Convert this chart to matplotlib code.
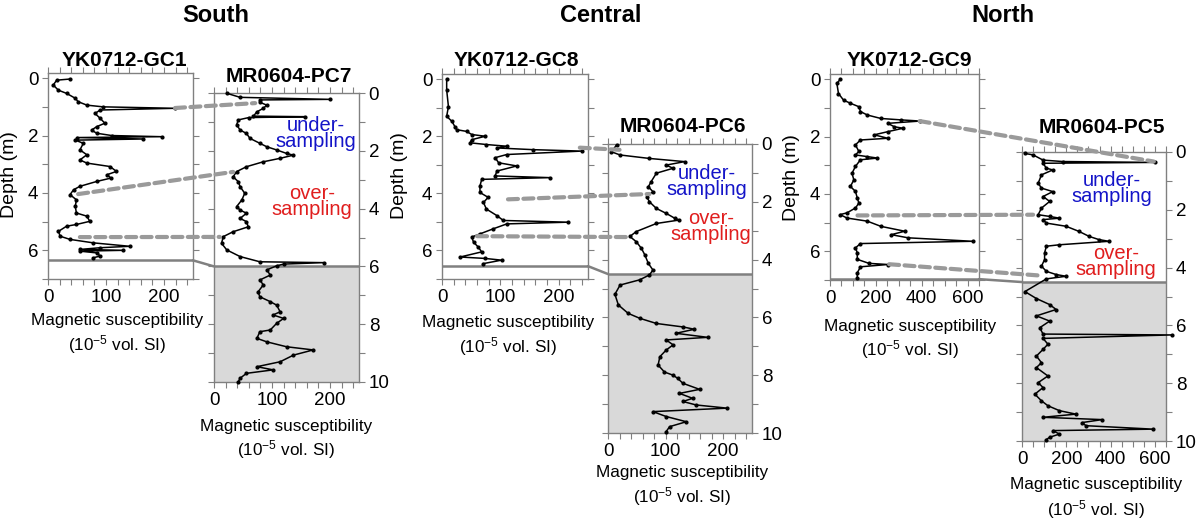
import matplotlib
matplotlib.use('Agg')
import matplotlib.pyplot as plt
from matplotlib.patches import ConnectionPatch
from matplotlib.ticker import MultipleLocator

plt.rcParams['font.family'] = ['Liberation Sans', 'DejaVu Sans']
plt.rcParams['mathtext.fontset'] = 'custom'
plt.rcParams['mathtext.rm'] = 'Liberation Sans'
plt.rcParams['mathtext.it'] = 'Liberation Sans:italic'
plt.rcParams['mathtext.bf'] = 'Liberation Sans:bold'

# ---------------- data ----------------
regions = ["South", "Central", "North"]
core_names = ["YK0712-GC1", "MR0604-PC7", "YK0712-GC8", "MR0604-PC6", "YK0712-GC9", "MR0604-PC5"]

gc1_depth = [0.03, 0.07, 0.24, 0.42, 0.53, 0.70, 0.82, 0.94, 1.00, 1.05, 1.11, 1.23, 1.40, 1.57, 1.69,
             1.81, 1.92, 2.00, 2.04, 2.07, 2.12, 2.16, 2.27, 2.50, 2.67, 2.85, 2.96, 3.08, 3.25, 3.37,
             3.48, 3.60, 3.77, 3.89, 4.06, 4.24, 4.47, 4.70, 4.81, 4.99, 5.10, 5.16, 5.34, 5.51, 5.62,
             5.74, 5.86, 5.91, 5.97, 6.00, 6.03, 6.09, 6.20, 6.26]
gc1_ms = [38, 15, 9, 18, 32, 47, 52, 67, 95, 219, 90, 81, 90, 98, 84,
          75, 84, 110, 196, 50, 164, 47, 61, 55, 67, 55, 67, 107, 118, 101,
          109, 84, 55, 44, 38, 49, 47, 49, 67, 72, 49, 32, 18, 21, 38,
          78, 141, 90, 55, 130, 55, 84, 90, 78]

pc7_depth = [0.01, 0.15, 0.22, 0.24, 0.32, 0.42, 0.53, 0.65, 0.80, 0.82, 0.85, 0.93, 1.10, 1.28, 1.40,
             1.57, 1.74, 1.86, 1.97, 2.09, 2.15, 2.26, 2.38, 2.55, 2.72, 2.90, 3.07, 3.24, 3.47, 3.70,
             3.93, 4.05, 4.16, 4.34, 4.45, 4.63, 4.80, 4.97, 5.20, 5.43, 5.66, 5.84, 5.87, 5.92, 5.98,
             6.12, 6.30, 6.47, 6.64, 6.88, 7.05, 7.22, 7.34, 7.57, 7.68, 7.80, 7.97, 8.20, 8.26, 8.49,
             8.61, 8.78, 8.89, 9.07, 9.30, 9.47, 9.58, 9.70, 9.87, 9.99]
pc7_ms = [22, 45, 200, 79, 79, 91, 85, 74, 68, 157, 60, 42, 39, 45, 56,
          62, 79, 91, 108, 125, 137, 114, 85, 56, 39, 33, 42, 45, 53, 48,
          39, 45, 56, 45, 56, 59, 33, 16, 13, 22, 45, 79, 189, 120, 108,
          91, 97, 79, 85, 76, 79, 97, 108, 114, 102, 120, 108, 97, 79, 74,
          91, 125, 171, 137, 114, 74, 102, 56, 45, 42]

gc8_depth = [0.00, 0.38, 0.96, 1.30, 1.48, 1.66, 1.77, 1.83, 1.94, 2.00, 2.12, 2.23, 2.29, 2.35, 2.41,
             2.47, 2.52, 2.64, 2.75, 2.93, 3.04, 3.22, 3.39, 3.45, 3.51, 3.74, 3.97, 4.14, 4.32, 4.55,
             4.78, 4.95, 5.01, 5.07, 5.24, 5.42, 5.53, 5.71, 5.88, 6.05, 6.23, 6.28, 6.34, 6.46]
gc8_ms = [8, 8, 11, 8, 17, 22, 25, 42, 51, 74, 51, 48, 76, 111, 94,
          156, 239, 111, 91, 97, 128, 94, 91, 185, 68, 65, 65, 79, 71, 76,
          94, 105, 216, 111, 88, 65, 51, 54, 62, 68, 31, 74, 102, 71]

pc6_depth = [0.03, 0.27, 0.38, 0.50, 0.61, 0.73, 0.84, 1.01, 1.30, 1.48, 1.65, 1.82, 2.00, 2.23, 2.40,
             2.57, 2.63, 2.75, 3.03, 3.20, 3.38, 3.61, 3.84, 4.13, 4.36, 4.53, 4.70, 4.88, 5.20, 5.57,
             5.86, 6.03, 6.21, 6.33, 6.41, 6.55, 6.69, 6.78, 6.95, 7.13, 7.36, 7.65, 7.89, 8.00, 8.11,
             8.28, 8.49, 8.63, 8.80, 8.91, 9.03, 9.14, 9.26, 9.43, 9.61, 9.78, 9.95]
pc6_ms = [15, 6, 21, 72, 133, 101, 113, 84, 75, 70, 78, 67, 72, 84, 101,
          116, 124, 84, 49, 38, 49, 58, 64, 70, 78, 72, 55, 21, 12, 18,
          35, 55, 84, 130, 150, 118, 173, 101, 113, 101, 90, 87, 98, 113, 121,
          130, 159, 124, 147, 130, 153, 207, 78, 101, 136, 107, 101]

gc9_depth = [0.01, 0.15, 0.50, 0.73, 0.84, 0.96, 1.13, 1.25, 1.37, 1.42, 1.46, 1.54, 1.66, 1.71, 1.83,
             1.94, 2.06, 2.12, 2.29, 2.52, 2.64, 2.70, 2.75, 2.81, 3.04, 3.28, 3.51, 3.74, 3.91, 4.14,
             4.32, 4.49, 4.66, 4.72, 4.84, 4.95, 5.13, 5.30, 5.42, 5.53, 5.65, 5.73, 5.88, 6.05, 6.28,
             6.42, 6.46, 6.54, 6.75, 6.92]
gc9_ms = [44, 30, 37, 59, 89, 126, 133, 163, 222, 311, 393, 252, 281, 319, 252,
          193, 252, 133, 111, 126, 111, 163, 207, 133, 111, 96, 104, 89, 111, 119,
          126, 111, 74, 44, 74, 163, 222, 326, 267, 341, 622, 133, 111, 119, 119,
          170, 252, 133, 119, 119]

pc5_depth = [0.05, 0.10, 0.28, 0.33, 0.36, 0.39, 0.56, 0.62, 0.79, 1.08, 1.25, 1.37, 1.54, 1.71, 1.94,
             2.17, 2.23, 2.29, 2.34, 2.46, 2.57, 2.75, 2.92, 3.03, 3.09, 3.21, 3.26, 3.49, 3.72, 3.95,
             4.13, 4.24, 4.30, 4.39, 4.83, 5.07, 5.28, 5.45, 5.67, 5.85, 6.08, 6.30, 6.33, 6.45, 6.65,
             6.83, 7.06, 7.29, 7.46, 7.75, 7.98, 8.15, 8.38, 8.61, 8.78, 8.95, 9.07, 9.18, 9.26, 9.36,
             9.47, 9.59, 9.64, 9.76, 9.87, 9.95]
pc5_ms = [13, 50, 95, 184, 600, 95, 110, 139, 88, 73, 88, 139, 95, 125, 88,
          73, 125, 169, 95, 110, 199, 258, 303, 347, 392, 169, 110, 102, 102, 88,
          110, 154, 199, 110, 13, 65, 125, 154, 65, 125, 80, 95, 675, 95, 117,
          95, 65, 88, 65, 117, 73, 95, 58, 88, 117, 169, 243, 95, 362, 273,
          288, 592, 139, 169, 125, 110]

# tie points: (gc value, gc depth, pc value, pc depth)
south_ties = [(219, 1.04, 71, 0.35), (52, 4.04, 33, 2.73), (55, 5.54, 10, 4.98)]
central_ties = [(236, 2.40, 20, 0.20), (113, 4.21, 72, 1.73), (60, 5.50, 34, 3.22)]
north_ties = [(391, 1.46, 595, 0.33), (120, 4.75, 50, 2.17), (258, 6.45, 90, 4.28)]

# bottom of gravity cores and corresponding piston-core depth
gc_bottom = [6.35, 6.55, 6.97]
pc_match = [6.0, 4.5, 4.5]

# ---------------- figure ----------------
W, H = 1200, 521
fig = plt.figure(figsize=(12, 5.21), dpi=100)

def px_axes(x0, x1, ytop, ybot):
    return fig.add_axes([x0 / W, 1 - ybot / H, (x1 - x0) / W, (ybot - ytop) / H])

def ftext(x, y, s, **kw):
    fig.text(x / W, 1 - y / H, s, ha='center', va='center', **kw)

GREY = '#808080'

layout = [
    (48, 193, 73, 279, (7, -0.18), 250, True),
    (214, 359, 93, 382, (10, 0), 250, False),
    (442, 588, 74, 279, (7, -0.18), 250, True),
    (608, 752, 144, 433, (10, 0), 250, False),
    (830, 979, 74, 280, (7, -0.18), 650, True),
    (1022, 1166, 152, 441, (10, 0), 650, False),
]
series = [(gc1_depth, gc1_ms), (pc7_depth, pc7_ms), (gc8_depth, gc8_ms),
          (pc6_depth, pc6_ms), (gc9_depth, gc9_ms), (pc5_depth, pc5_ms)]

axes = []
for (x0, x1, yt, yb, ylim, xmax, is_gc), (d, v) in zip(layout, series):
    ax = px_axes(x0, x1, yt, yb)
    ax.set_ylim(*ylim)
    ax.set_xlim(0, xmax)
    ax.plot(v, d, color='black', lw=1.1, marker='o', ms=2.0, mec='black', mfc='black',
            clip_on=False, zorder=3)
    nmax = int(max(ylim))
    ax.set_yticks(range(0, nmax + 1))
    ax.set_yticklabels([str(i) if i % 2 == 0 else '' for i in range(0, nmax + 1)])
    if xmax == 250:
        ax.set_xticks([0, 100, 200])
        ax.xaxis.set_minor_locator(MultipleLocator(20))
    else:
        ax.set_xticks([0, 200, 400, 600])
        ax.xaxis.set_minor_locator(MultipleLocator(50))
    ax.tick_params(which='both', direction='out', length=4.5, width=0.8, color=GREY,
                   top=True, right=True, bottom=True, left=True, labelsize=13.5, pad=2.5,
                   labelleft=is_gc, labelright=not is_gc)
    for s in ax.spines.values():
        s.set_color(GREY)
        s.set_linewidth(1.0)
    axes.append(ax)

for i in range(3):
    gc, pc = axes[2 * i], axes[2 * i + 1]
    xmax = gc.get_xlim()[1]
    gc.axhline(gc_bottom[i], color=GREY, lw=1.8, zorder=2)
    pc.axhspan(pc_match[i], 10, color='#d9d9d9', zorder=0, lw=0)
    pc.axhline(pc_match[i], color=GREY, lw=1.8, zorder=2)
    con = ConnectionPatch(xyA=(xmax, gc_bottom[i]), coordsA=gc.transData,
                          xyB=(0, pc_match[i]), coordsB=pc.transData,
                          color=GREY, lw=1.8)
    fig.add_artist(con)

for i, ties in enumerate([south_ties, central_ties, north_ties]):
    gc, pc = axes[2 * i], axes[2 * i + 1]
    for gv, gd, pv, pd in ties:
        con = ConnectionPatch(xyA=(gv, gd), coordsA=gc.transData,
                              xyB=(pv, pd), coordsB=pc.transData,
                              color='#9a9a9a', lw=3.0, linestyle=(0, (2.4, 1.3)))
        fig.add_artist(con)

under_pos = [(176, 1.4), (172, 1.3), (406, 1.28)]
over_pos = [(169, 3.75), (179, 2.85), (424, 3.8)]
for i in range(3):
    pc = axes[2 * i + 1]
    pc.text(*under_pos[i], "under-\nsampling", color='#1414c8', fontsize=14.5, ha='center',
            va='center', linespacing=0.8, zorder=5)
    pc.text(*over_pos[i], "over-\nsampling", color='#e01e1e', fontsize=14.5, ha='center',
            va='center', linespacing=0.8, zorder=5)

ftext(216, 16, "South", fontsize=17, fontweight='bold')
ftext(601, 16, "Central", fontsize=17, fontweight='bold')
ftext(1003, 16, "North", fontsize=17, fontweight='bold')

title_pos = [(124, 60), (289, 76), (516, 61), (683, 127), (909, 61), (1102, 128)]
for (x, y), name in zip(title_pos, core_names):
    ftext(x, y, name, fontsize=15, fontweight='bold')

for x, y in [(10, 175), (400, 176), (792, 178)]:
    ftext(x, y, "Depth (m)", fontsize=14, rotation=90)

xlab_pos = [(117, 320, 345), (286, 426, 450), (508, 322, 347), (682, 472, 497),
            (910, 327, 350), (1096, 485, 510)]
for x, y1, y2 in xlab_pos:
    ftext(x, y1, "Magnetic susceptibility", fontsize=12.3)
    ftext(x, y2, r"(10$^{\mathregular{-5}}$ vol. SI)", fontsize=12.3)

fig.savefig("out.png", dpi=100)
